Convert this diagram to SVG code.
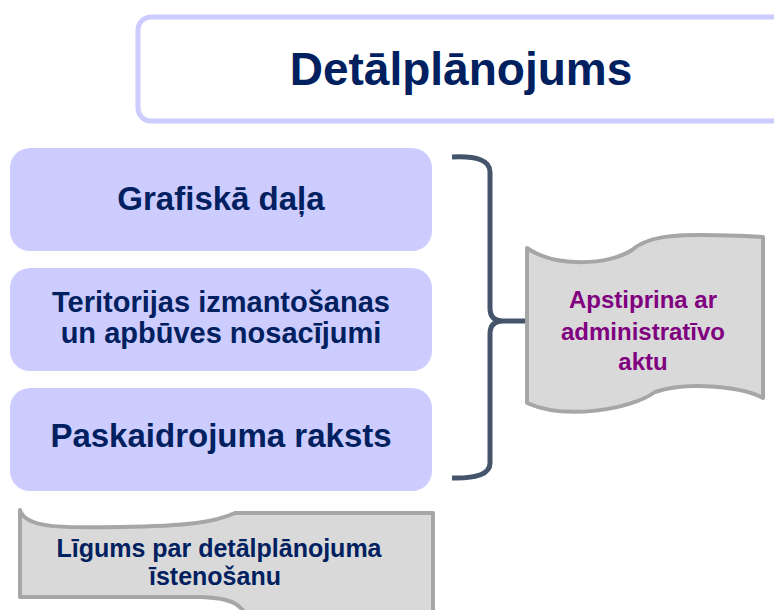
<svg xmlns="http://www.w3.org/2000/svg" width="774" height="610" viewBox="0 0 774 610">
<style>
.box{fill:#ccccff;}
.t{font-family:"Liberation Sans",Arial,sans-serif;font-weight:bold;fill:#002060;text-anchor:middle;}
.flag{fill:#d9d9d9;stroke:#a6a6a6;stroke-width:4;stroke-linejoin:round;}
.p{font-family:"Liberation Sans",Arial,sans-serif;font-weight:bold;fill:#800080;text-anchor:middle;font-size:24px;}
</style>
<rect width="774" height="610" fill="#ffffff"/>
<g id="title">
<rect x="138" y="17" width="660" height="104" rx="13" fill="#ffffff" stroke="#ccccff" stroke-width="5"/>
<text class="t" x="461" y="85" font-size="46">Detālplānojums</text>
</g>
<g id="grafiska">
<rect class="box" x="10" y="148" width="422" height="103" rx="20"/>
<text class="t" x="221" y="210" font-size="33">Grafiskā daļa</text>
</g>
<g id="teritorijas">
<rect class="box" x="10" y="268" width="422" height="103" rx="20"/>
<text class="t" x="221" y="312" font-size="29">Teritorijas izmantošanas</text>
<text class="t" x="221" y="343" font-size="29">un apbūves nosacījumi</text>
</g>
<g id="paskaidrojuma">
<rect class="box" x="10" y="388" width="422" height="103" rx="20"/>
<text class="t" x="221" y="447" font-size="33">Paskaidrojuma raksts</text>
</g>
<g id="connectors">
<path d="M452,157 Q490,155 490,172 L490,308 Q490,321 503,321 L527,321 M503,321 Q490,321 490,334 L490,463 Q490,479 452,478" fill="none" stroke="#44546a" stroke-width="5"/>
</g>
<g id="apstiprina">
<path class="flag" d="M527,248 C555,268 610,265 632,250 C648,236 672,232 763,237 L763,398 C745,388 690,380 655,392 C630,410 565,420 527,403 Z"/>
<text class="p" x="643" y="308">Apstiprina ar</text>
<text class="p" x="643" y="340">administratīvo</text>
<text class="p" x="643" y="370">aktu</text>
</g>
<g id="ligums">
<path class="flag" d="M20,510 C25,528 60,528 120,527 C190,526 215,522 235,513 L433,513 L433,620 L250,620 C240,605 235,598 200,597 L20,597 Z"/>
<text class="t" x="219" y="557" font-size="25">Līgums par detālplānojuma</text>
<text class="t" x="215" y="585" font-size="25">īstenošanu</text>
</g>
</svg>
